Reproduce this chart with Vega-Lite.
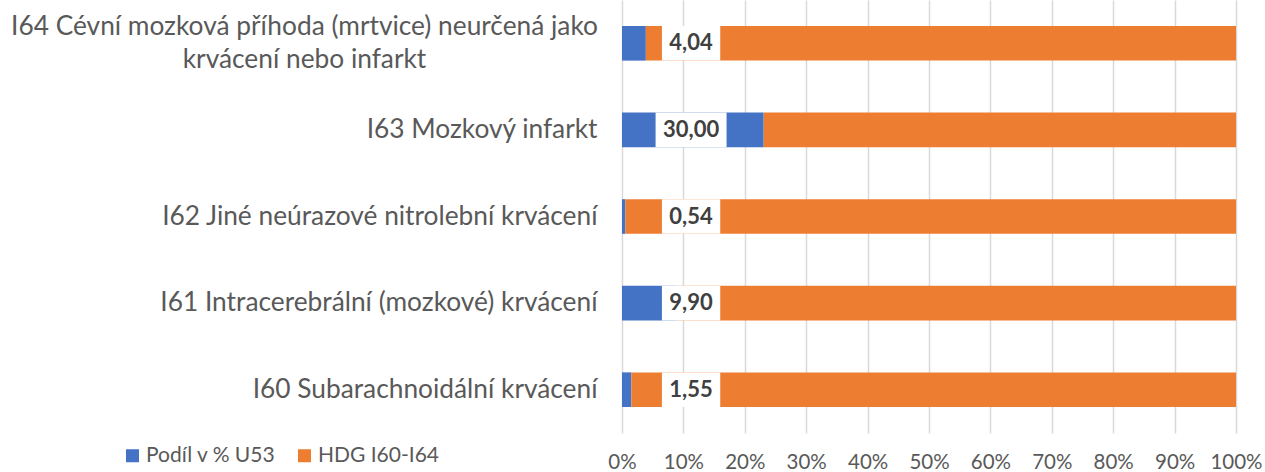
{
  "$schema": "https://vega.github.io/schema/vega-lite/v6.json",
  "width": 614,
  "height": 433,
  "autosize": {"type": "none"},
  "padding": {"left": 622, "top": 0, "right": 29, "bottom": 39},
  "background": "white",
  "config": {"view": {"stroke": null}, "font": "Lato"},
  "data": {
    "values": [
      {"cat": "I64 Cévní mozková příhoda (mrtvice) neurčená jako|krvácení nebo infarkt", "series": "Podíl v % U53", "value": 4.04, "ord": 1, "label": "4,04"},
      {"cat": "I64 Cévní mozková příhoda (mrtvice) neurčená jako|krvácení nebo infarkt", "series": "HDG I60-I64", "value": 100, "ord": 2, "label": ""},
      {"cat": "I63 Mozkový infarkt", "series": "Podíl v % U53", "value": 30.0, "ord": 1, "label": "30,00"},
      {"cat": "I63 Mozkový infarkt", "series": "HDG I60-I64", "value": 100, "ord": 2, "label": ""},
      {"cat": "I62 Jiné neúrazové nitrolební krvácení", "series": "Podíl v % U53", "value": 0.54, "ord": 1, "label": "0,54"},
      {"cat": "I62 Jiné neúrazové nitrolební krvácení", "series": "HDG I60-I64", "value": 100, "ord": 2, "label": ""},
      {"cat": "I61 Intracerebrální (mozkové) krvácení", "series": "Podíl v % U53", "value": 9.9, "ord": 1, "label": "9,90"},
      {"cat": "I61 Intracerebrální (mozkové) krvácení", "series": "HDG I60-I64", "value": 100, "ord": 2, "label": ""},
      {"cat": "I60 Subarachnoidální krvácení", "series": "Podíl v % U53", "value": 1.55, "ord": 1, "label": "1,55"},
      {"cat": "I60 Subarachnoidální krvácení", "series": "HDG I60-I64", "value": 100, "ord": 2, "label": ""}
    ]
  },
  "encoding": {
    "y": {
      "field": "cat",
      "type": "nominal",
      "sort": [
        "I64 Cévní mozková příhoda (mrtvice) neurčená jako|krvácení nebo infarkt",
        "I63 Mozkový infarkt",
        "I62 Jiné neúrazové nitrolební krvácení",
        "I61 Intracerebrální (mozkové) krvácení",
        "I60 Subarachnoidální krvácení"
      ],
      "scale": {"paddingInner": 0.6, "paddingOuter": 0.3},
      "axis": {
        "title": null,
        "domain": false,
        "ticks": false,
        "labelFontSize": 26.3,
        "labelColor": "#595959",
        "labelLimit": 800,
        "labelLineHeight": 33,
        "labelAlign": {"condition": {"test": "indexof(datum.value, 'I64') == 0", "value": "center"}, "value": "right"},
        "labelPadding": {"condition": {"test": "indexof(datum.value, 'I64') == 0", "value": 318}, "value": 25},
        "labelOffset": {"condition": {"test": "indexof(datum.value, 'I64') == 0", "value": -16}, "value": 0},
        "labelExpr": "split(datum.label, '|')"
      }
    }
  },
  "layer": [
    {
      "mark": {"type": "bar"},
      "encoding": {
        "x": {
          "field": "value",
          "type": "quantitative",
          "stack": "normalize",
          "scale": {"domain": [0, 1]},
          "axis": {
            "title": null,
            "format": ".0%",
            "values": [0, 0.1, 0.2, 0.3, 0.4, 0.5, 0.6, 0.7, 0.8, 0.9, 1],
            "grid": true,
            "gridColor": "#d9d9d9",
            "gridWidth": 1.5,
            "domain": false,
            "ticks": false,
            "labelFontSize": 20.5,
            "labelColor": "#595959",
            "labelPadding": 19,
            "labelFlush": false
          }
        },
        "color": {
          "field": "series",
          "type": "nominal",
          "scale": {"domain": ["Podíl v % U53", "HDG I60-I64"], "range": ["#4472C4", "#ED7D31"]},
          "legend": {
            "title": null,
            "orient": "none",
            "legendX": -500,
            "legendY": 445,
            "direction": "horizontal",
            "symbolType": "square",
            "symbolSize": 169,
            "symbolStrokeWidth": 0,
            "labelFontSize": 21,
            "labelColor": "#595959",
            "labelOffset": 3,
            "columnPadding": 18,
            "labelLimit": 300
          }
        },
        "order": {"field": "ord", "type": "quantitative"}
      }
    },
    {
      "transform": [{"filter": "datum.series == 'Podíl v % U53' && length(datum.label) <= 4"}],
      "mark": {"type": "bar", "color": "white"},
      "encoding": {
        "x": {"datum": 0.065},
        "x2": {"datum": 0.16}
      }
    },
    {
      "transform": [{"filter": "datum.series == 'Podíl v % U53' && length(datum.label) > 4"}],
      "mark": {"type": "bar", "color": "white"},
      "encoding": {
        "x": {"datum": 0.0547},
        "x2": {"datum": 0.1703}
      }
    },
    {
      "transform": [{"filter": "datum.series == 'Podíl v % U53'"}],
      "mark": {"type": "text", "fontWeight": "bold", "fontSize": 22, "color": "#404040"},
      "encoding": {
        "x": {"datum": 0.1125},
        "text": {"field": "label", "type": "nominal"}
      }
    }
  ]
}
